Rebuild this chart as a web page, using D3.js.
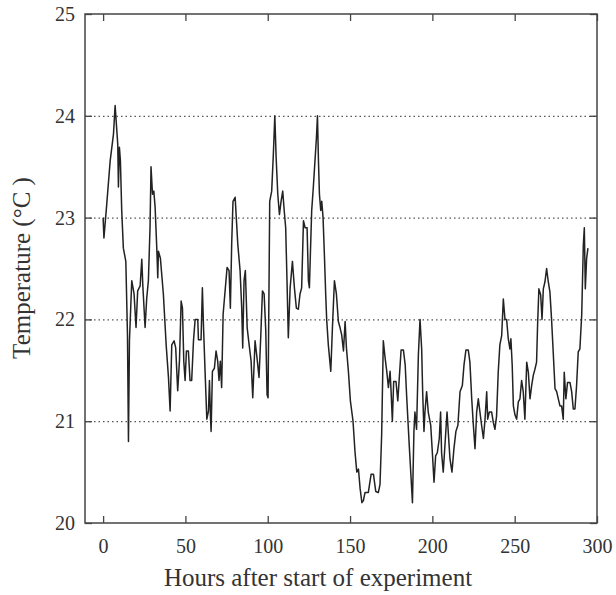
<!DOCTYPE html>
<html>
<head>
<meta charset="utf-8">
<script src="https://cdn.jsdelivr.net/npm/d3@7"></script>
<style>
  body { margin: 0; background: #fff; }
  text { font-family: "Liberation Serif", "DejaVu Serif", serif; fill: #333; }
</style>
</head>
<body>
<div class="chart"></div>
<script>
// hours after start
var hours = [0, 0.5, 2.2, 4.3, 6.3, 7.3, 8.9, 9.3, 9.9, 10.5, 11.3, 12.3, 13.8, 14.8, 15.4, 16,
  17.4, 18.8, 20, 21, 22.5, 23.5, 24.1, 25.5, 26.5, 27.5, 28.5, 29.1, 30, 30.8, 31.6, 32.6,
  33.2, 33.6, 34.8, 36.6, 38.3, 39.7, 40.7, 41.7, 43.1, 44.1, 45.3, 46.4, 47.4, 48.2, 49,
  49.8, 50.6, 51.8, 52.8, 53.8, 54.9, 55.9, 57.5, 57.9, 59.5, 60.3, 61, 62, 63, 64, 64.6,
  65.2, 65.6, 66.4, 67.6, 68.6, 69.6, 70.4, 71.2, 72, 72.9, 74.1, 75.3, 76.5, 77.3, 78.1,
  78.9, 80.2, 81, 81.8, 83.2, 84.2, 84.8, 85.6, 86.4, 87.5, 88.7, 89.9, 90.9, 92.3, 93.5,
  94.7, 95.8, 96.8, 97.8, 98.8, 99.6, 100.2, 101.2, 102.4, 103.4, 104.3, 105.1, 106.1,
  107.1, 108.1, 109.1, 110, 110.9, 111.7, 112.5, 113.6, 115, 116.2, 117.4, 118.6, 119.6,
  120.6, 121.7, 122.7, 123.9, 124.7, 125.3, 125.9, 126.7, 127.7, 128.7, 129.6, 130.2,
  130.8, 131.4, 132.2, 132.8, 133.6, 134.4, 135.2, 135.8, 136.8, 138.3, 139.3, 140.5,
  141.7, 142.9, 143.9, 144.9, 146, 147, 147.8, 149, 150.2, 151, 151.8, 153, 154.1, 155.1,
  156.1, 157.2, 158.1, 159.1, 161.1, 162.8, 164.2, 165.6, 167.2, 168.2, 169.2, 170.2,
  171.3, 172.3, 173.3, 174.3, 174.9, 175.7, 176.5, 177.9, 179, 181, 182.4, 183.5, 184.4,
  186, 187.9, 188.8, 189.4, 190.4, 191.5, 192.5, 193.5, 194.1, 194.9, 195.5, 196.5, 197.5,
  199, 200, 201, 202, 203, 204.2, 205, 205.6, 206.6, 207.9, 208.9, 209.9, 210.7, 211.9,
  213.1, 214.3, 215.5, 216.8, 218.2, 219.2, 220.4, 221.8, 222.8, 223.9, 224.9, 225.9,
  226.9, 227.9, 228.9, 229.9, 231, 232, 233, 233.6, 234.6, 236, 237, 238, 239, 240, 241,
  242.1, 243.1, 244.1, 245.1, 246.1, 247.1, 247.7, 248.5, 249.2, 250.2, 251.2, 252.2,
  253.2, 254.2, 255.2, 256.2, 257.3, 258.3, 259.3, 260.3, 261.3, 262.3, 263.3, 263.9,
  264.7, 265.8, 266.6, 267.4, 268.4, 269.4, 270.4, 271.4, 272.4, 273.4, 274.5, 275.5,
  276.5, 277.5, 278.5, 279.5, 280.1, 281.1, 282.1, 283.6, 284.6, 285.6, 286.6, 287.6,
  288.6, 289.6, 290.7, 291.7, 292.3, 292.9, 293.7, 294.5];

// temperature in degrees C
var temps = [23.0, 22.8, 23.13, 23.56, 23.82, 24.1, 23.72, 23.3, 23.69, 23.56, 23.07, 22.7, 22.57, 21.85, 20.8, 21.79,
  22.38, 22.25, 21.92, 22.28, 22.33, 22.59, 22.34, 21.92, 22.21, 22.38, 22.9, 23.5, 23.23, 23.26, 23.1, 22.7,
  22.41, 22.67, 22.6, 22.25, 21.75, 21.43, 21.1, 21.75, 21.79, 21.72, 21.3, 21.6, 22.18, 22.11, 21.59,
  21.4, 21.69, 21.69, 21.4, 21.4, 21.79, 22.0, 22.0, 21.8, 21.8, 22.31, 21.92, 21.46, 21.02, 21.1, 21.4,
  21.05, 20.9, 21.49, 21.52, 21.69, 21.59, 21.4, 21.59, 21.33, 22.05, 22.28, 22.51, 22.48, 22.11, 22.74,
  23.16, 23.2, 22.97, 22.74, 22.48, 22.11, 21.72, 22.38, 22.48, 21.92, 21.75, 21.59, 21.23, 21.79, 21.62,
  21.43, 21.85, 22.28, 22.25, 21.89, 21.26, 21.23, 23.16, 23.26, 23.62, 24.0, 23.59, 23.23,
  23.03, 23.16, 23.26, 23.07, 22.9, 22.38, 21.82, 22.31, 22.57, 22.31, 22.11, 22.1, 22.25,
  22.31, 22.97, 22.9, 22.9, 22.38, 22.31, 22.64, 23.07, 23.3, 23.56, 23.79, 24.0,
  23.56, 23.23, 23.07, 23.16, 23.0, 22.64, 22.25, 22.0, 21.75, 21.49, 21.92, 22.38,
  22.25, 21.98, 21.92, 21.85, 21.69, 21.98, 21.72, 21.49, 21.2, 21.1, 21.0, 20.7, 20.5, 20.53,
  20.34, 20.2, 20.22, 20.3, 20.3, 20.48, 20.48, 20.31, 20.3, 20.38, 20.87, 21.79,
  21.62, 21.49, 21.33, 21.49, 21.3, 21.0, 21.39, 21.39, 21.2, 21.7, 21.7, 21.55, 21.24,
  20.75, 20.2, 20.9, 21.09, 20.92, 21.65, 22.0, 21.71, 21.29, 20.9, 21.09, 21.29, 21.09,
  20.96, 20.69, 20.4, 20.66, 20.69, 20.83, 21.09, 20.69, 20.5, 20.83, 21.09, 20.83, 20.63, 20.5,
  20.73, 20.9, 20.96, 21.29, 21.35, 21.55, 21.7, 21.7, 21.58, 21.22, 20.96, 20.73,
  21.09, 21.22, 21.09, 20.96, 20.83, 21.02, 21.29, 21.02, 21.09, 21.09, 20.99, 20.92, 21.05, 21.48, 21.75,
  21.84, 22.2, 22.0, 22.0, 21.81, 21.71, 21.81, 21.55, 21.15, 21.06, 21.02, 21.19,
  21.22, 21.4, 21.29, 21.02, 21.58, 21.48, 21.22, 21.35, 21.45, 21.51, 21.58, 21.94,
  22.3, 22.24, 22.0, 22.3, 22.37, 22.5, 22.37, 22.27, 22.0, 21.68, 21.32, 21.29,
  21.22, 21.15, 21.15, 21.02, 21.48, 21.22, 21.38, 21.38, 21.29, 21.12, 21.12, 21.35,
  21.68, 21.71, 22.04, 22.73, 22.9, 22.3, 22.6, 22.7];

var xTicks = [0, 50, 100, 150, 200, 250, 300];
var yTicks = [20, 21, 22, 23, 24, 25];
var gridValues = [21, 22, 23, 24];

var svgWidth = 616;
var svgHeight = 595;

var svg = d3.select(".chart")
  .append("svg")
  .attr("width", svgWidth)
  .attr("height", svgHeight);

// plot frame in pixels
var frame = { left: 85, right: 597, top: 14, bottom: 523 };

var xScale = d3.scaleLinear()
  .domain([-11, 300])
  .range([frame.left, frame.right]);

var yScale = d3.scaleLinear()
  .domain([20, 25])
  .range([frame.bottom, frame.top]);

// dotted grid lines
svg.append("g")
  .selectAll("line")
  .data(gridValues)
  .enter()
  .append("line")
  .attr("x1", frame.left)
  .attr("x2", frame.right)
  .attr("y1", d => yScale(d) + 0.5)
  .attr("y2", d => yScale(d) + 0.5)
  .attr("stroke", "#555")
  .attr("stroke-width", 1.2)
  .attr("stroke-dasharray", "1.5,3");

// axes, ticks pointing into the plot on all four sides
var tickLen = 7;

var bottomAxis = d3.axisBottom(xScale).tickValues(xTicks).tickFormat(d3.format("d"))
  .tickSizeInner(-tickLen).tickSizeOuter(0).tickPadding(16);
var topAxis = d3.axisTop(xScale).tickValues(xTicks).tickSizeInner(-tickLen).tickSizeOuter(0).tickFormat("");
var leftAxis = d3.axisLeft(yScale).tickValues(yTicks).tickFormat(d3.format("d"))
  .tickSizeInner(-tickLen).tickSizeOuter(0).tickPadding(10);
var rightAxis = d3.axisRight(yScale).tickValues(yTicks).tickSizeInner(-tickLen).tickSizeOuter(0).tickFormat("");

var xAxis = svg.append("g")
  .attr("transform", `translate(0, ${frame.bottom})`)
  .call(bottomAxis);

svg.append("g")
  .attr("transform", `translate(0, ${frame.top})`)
  .call(topAxis);

var yAxis = svg.append("g")
  .attr("transform", `translate(${frame.left}, 0)`)
  .call(leftAxis);

svg.append("g")
  .attr("transform", `translate(${frame.right}, 0)`)
  .call(rightAxis);

svg.selectAll(".domain").remove();
svg.selectAll(".tick line").attr("stroke", "#444").attr("stroke-width", 1.3);

// serif tick labels like the rest of the figure
[xAxis, yAxis].forEach(function (axis) {
  axis.attr("font-family", "Liberation Serif, serif")
    .attr("font-size", 20);
  axis.selectAll("text")
    .style("font-family", "'Liberation Serif', serif")
    .style("font-size", "20px")
    .attr("fill", "#333");
});

// frame
svg.append("rect")
  .attr("x", frame.left)
  .attr("y", frame.top)
  .attr("width", frame.right - frame.left)
  .attr("height", frame.bottom - frame.top)
  .attr("fill", "none")
  .attr("stroke", "#444")
  .attr("stroke-width", 1.5);

// temperature trace
var line = d3.line()
  .x((d, i) => xScale(hours[i]))
  .y(d => yScale(d));

svg.append("path")
  .datum(temps)
  .attr("d", line)
  .attr("fill", "none")
  .attr("stroke", "#222")
  .attr("stroke-width", 1.5)
  .attr("stroke-linejoin", "round");

// axis titles
svg.append("text")
  .attr("x", 318)
  .attr("y", 586)
  .attr("text-anchor", "middle")
  .style("font-size", "25px")
  .text("Hours after start of experiment");

svg.append("text")
  .attr("transform", "rotate(-90)")
  .attr("x", -268)
  .attr("y", 30)
  .attr("text-anchor", "middle")
  .style("font-size", "25px")
  .text("Temperature (°C )");
</script>
</body>
</html>
